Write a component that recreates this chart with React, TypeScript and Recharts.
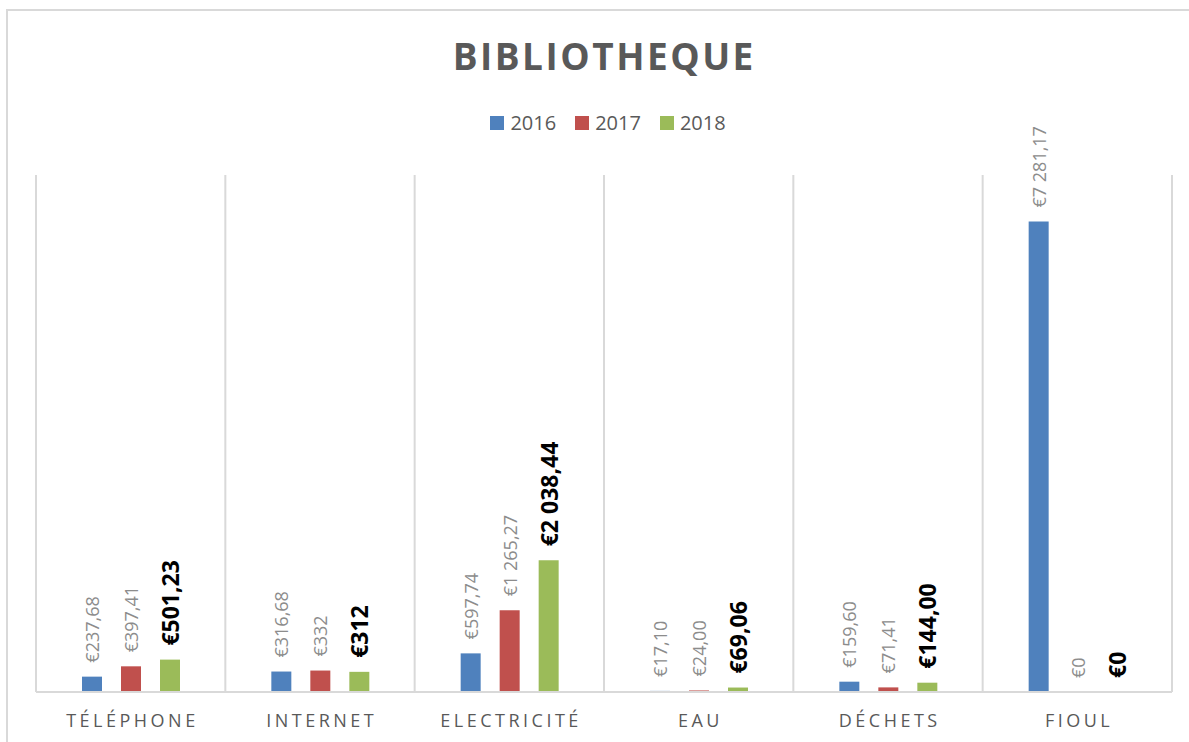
import React from 'react';
import { BarChart, Bar, XAxis, YAxis, CartesianGrid, LabelList } from 'recharts';

const categories = ['TÉLÉPHONE', 'INTERNET', 'ELECTRICITÉ', 'EAU', 'DÉCHETS', 'FIOUL'];
const values2016 = [237.68, 316.68, 597.74, 17.1, 159.6, 7281.17];
const values2017 = [397.41, 332, 1265.27, 24.0, 71.41, 0];
const values2018 = [501.23, 312, 2038.44, 69.06, 144.0, 0];
const labels2016 = ['€237,68', '€316,68', '€597,74', '€17,10', '€159,60', '€7 281,17'];
const labels2017 = ['€397,41', '€332', '€1 265,27', '€24,00', '€71,41', '€0'];
const labels2018 = ['€501,23', '€312', '€2 038,44', '€69,06', '€144,00', '€0'];
const seriesNames = ['2016', '2017', '2018'];
const seriesColors = ['#4f81bd', '#c0504d', '#9bbb59'];
const chartTitle = 'BIBLIOTHEQUE';

const data = categories.map((name, i) => ({
  name,
  v2016: values2016[i],
  v2017: values2017[i],
  v2018: values2018[i],
  l2016: labels2016[i],
  l2017: labels2017[i],
  l2018: labels2018[i],
}));

const FONT = '"Open Sans", "Noto Sans", sans-serif';

const makeLabel = (bold: boolean) => (props: any) => {
  const { x, y, width, value } = props;
  const cx = Number(x) + Number(width) / 2;
  const cy = Number(y) - 14;
  return (
    <text
      x={cx}
      y={cy}
      transform={`rotate(-90 ${cx} ${cy})`}
      textAnchor="start"
      dominantBaseline="central"
      fontFamily={FONT}
      fontSize={bold ? 23 : 18}
      fontWeight={bold ? 700 : 400}
      fill={bold ? '#000000' : '#8c8c8c'}
    >
      {value}
    </text>
  );
};

const CategoryTick = (props: any) => {
  const { x, y, payload } = props;
  return (
    <text
      x={Number(x) + 1.75}
      y={Number(y)}
      dy={35}
      textAnchor="middle"
      fontFamily={FONT}
      fontSize={18}
      letterSpacing={3.5}
      fill="#595959"
    >
      {payload.value}
    </text>
  );
};

export default function App() {
  return (
    <div style={{ position: 'absolute', left: 0, top: 0, width: 1189, height: 742, overflow: 'hidden', background: '#fff' }}>
      <div
        style={{
          position: 'absolute',
          left: 6,
          top: 9,
          width: 1200,
          height: 760,
          border: '2px solid #d9d9d9',
          boxSizing: 'border-box',
        }}
      />
      <div
        style={{
          position: 'absolute',
          left: 303,
          top: 37,
          width: 600,
          textAlign: 'center',
          fontFamily: FONT,
          fontWeight: 700,
          fontSize: 37,
          lineHeight: '37px',
          letterSpacing: 2.5,
          paddingLeft: 2.5,
          boxSizing: 'border-box',
          color: '#595959',
        }}
      >
        {chartTitle}
      </div>
      <div
        style={{
          position: 'absolute',
          left: 0,
          top: 113,
          width: 1216,
          display: 'flex',
          justifyContent: 'center',
          alignItems: 'center',
          fontFamily: FONT,
          fontSize: 20,
          lineHeight: '20px',
          color: '#595959',
        }}
      >
        {seriesNames.map((n, i) => (
          <div key={n} style={{ display: 'flex', alignItems: 'center', marginRight: i < seriesNames.length - 1 ? 19 : 0 }}>
            <div style={{ width: 14, height: 14, background: seriesColors[i], marginRight: 6 }} />
            <span>{n}</span>
          </div>
        ))}
      </div>
      <div style={{ position: 'absolute', left: 0, top: 0 }}>
        <BarChart
          width={1189}
          height={742}
          data={data}
          margin={{ top: 175, right: 17, left: 36, bottom: 0 }}
          barGap={19}
        >
          <CartesianGrid
            horizontal={false}
            vertical={true}
            stroke="#d9d9d9"
            strokeWidth={2}
            verticalCoordinatesGenerator={({ offset }: any) =>
              Array.from({ length: categories.length + 1 }, (_, i) => offset.left + (i * offset.width) / categories.length)
            }
          />
          <XAxis
            dataKey="name"
            height={50}
            tickLine={false}
            tickSize={0}
            tickMargin={0}
            axisLine={{ stroke: '#d9d9d9', strokeWidth: 2 }}
            tick={<CategoryTick />}
            interval={0}
          />
          <YAxis hide domain={[0, 8000]} />
          <Bar dataKey="v2016" name={seriesNames[0]} fill={seriesColors[0]} barSize={20} minPointSize={0.01} isAnimationActive={false}>
            <LabelList dataKey="l2016" content={makeLabel(false)} />
          </Bar>
          <Bar dataKey="v2017" name={seriesNames[1]} fill={seriesColors[1]} barSize={20} minPointSize={0.01} isAnimationActive={false}>
            <LabelList dataKey="l2017" content={makeLabel(false)} />
          </Bar>
          <Bar dataKey="v2018" name={seriesNames[2]} fill={seriesColors[2]} barSize={20} minPointSize={0.01} isAnimationActive={false}>
            <LabelList dataKey="l2018" content={makeLabel(true)} />
          </Bar>
        </BarChart>
      </div>
    </div>
  );
}
